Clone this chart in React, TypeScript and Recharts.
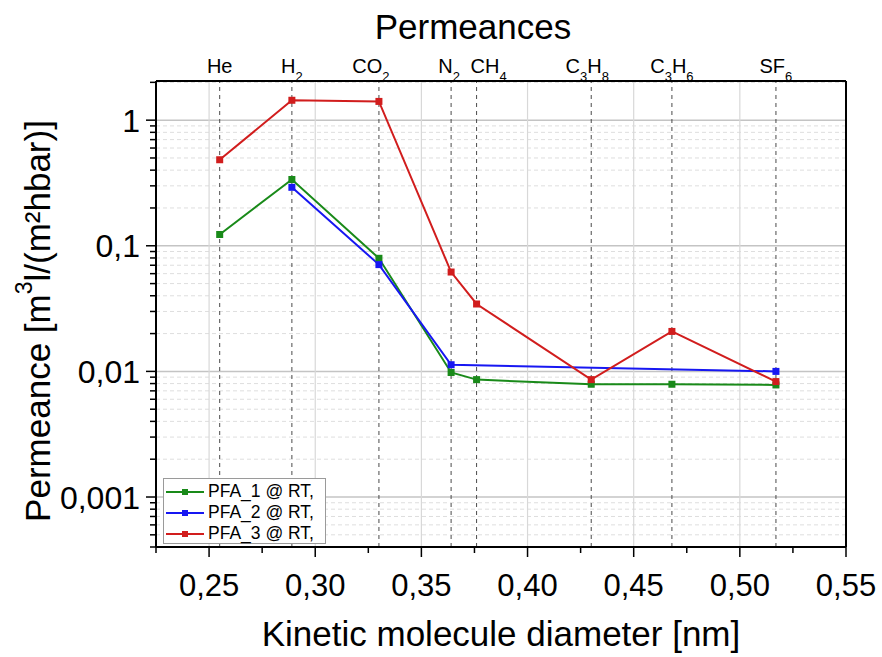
import React from 'react';
import { LineChart, Line, XAxis, YAxis, ReferenceLine, Label } from 'recharts';

// gases and their kinetic diameters (nm)
const gases = ['He', 'H2', 'CO2', 'N2', 'CH4', 'C3H8', 'C3H6', 'SF6'];
const diameters = [0.255, 0.289, 0.33, 0.364, 0.376, 0.43, 0.468, 0.517];

// permeances m3/(m2 h bar)
const pfa1 = [0.123, 0.337, 0.0795, 0.0098, 0.0086, 0.0079, 0.0079, 0.0078];
const pfa2 = [null, 0.292, 0.0708, 0.0113, null, null, null, 0.01];
const pfa3 = [0.484, 1.44, 1.41, 0.0618, 0.0344, 0.0086, 0.0208, 0.0083];

const seriesNames = ['PFA_1 @ RT,', 'PFA_2 @ RT,', 'PFA_3 @ RT,'];
const seriesColors = ['#198a19', '#1717f2', '#d11d1d'];

const xMajorTicks = [0.25, 0.3, 0.35, 0.4, 0.45, 0.5, 0.55];
const xMinorTicks = [0.225, 0.275, 0.325, 0.375, 0.425, 0.475, 0.525];
const yMajorTicks = [0.001, 0.01, 0.1, 1];
const yMinorSteps = [2, 3, 4, 5, 6, 7, 8, 9];

const data = diameters.map((d, i) => ({ d, pfa1: pfa1[i], pfa2: pfa2[i], pfa3: pfa3[i] }));

const yMinorTicks = [
  ...[4, 5, 6, 7, 8, 9].map((s) => s * 0.0001),
  ...yMajorTicks.flatMap((dec) => yMinorSteps.map((s) => s * dec)).filter((v) => v < 2.05),
];

const FONT = '"Liberation Sans", Arial, sans-serif';
const fmt = (v: number) => v.toString().replace('.', ',');
const isMajor = (list: number[], v: number) => list.some((t) => Math.abs(t - v) < 1e-9);

// small horizontal nudges so the crowded gas labels don't collide
const labelNudge: Record<string, number> = { CO2: -8, N2: -2, CH4: 12, C3H8: -4 };

// splits "C3H8" into text with subscript digits
const gasText = (g: string) =>
  g.split(/(\d+)/).filter(Boolean).map((part, i) =>
    /\d/.test(part) ? (
      <tspan key={i} baselineShift="sub" fontSize={13}>{part}</tspan>
    ) : (
      <tspan key={i}>{part}</tspan>
    )
  );

const BottomTick = (props: any) => {
  const { x, y, payload } = props;
  const major = isMajor(xMajorTicks, payload.value);
  return (
    <g>
      <line x1={x} x2={x} y1={y} y2={y + (major ? 10 : 6)} stroke="#000" strokeWidth={1.5} />
      {major && (
        <text x={x} y={y + 49} textAnchor="middle" fontSize={31} fontFamily={FONT} fill="#000">
          {payload.value.toFixed(2).replace('.', ',')}
        </text>
      )}
    </g>
  );
};

const TopTick = (props: any) => {
  const { x, y, index } = props;
  const g = gases[index];
  return (
    <text x={x + (labelNudge[g] ?? 0)} y={y - 8} textAnchor="middle" fontSize={20} fontFamily={FONT} fill="#000">
      {gasText(g)}
    </text>
  );
};

const LeftTick = (props: any) => {
  const { x, y, payload } = props;
  const major = isMajor(yMajorTicks, payload.value);
  return (
    <g>
      <line x1={x - (major ? 10 : 6)} x2={x} y1={y} y2={y} stroke="#000" strokeWidth={1.5} />
      {major && (
        <text x={x - 16} y={y} dy="0.36em" textAnchor="end" fontSize={32} fontFamily={FONT} fill="#000">
          {fmt(payload.value)}
        </text>
      )}
    </g>
  );
};

const squareDot = (color: string) => (p: any) => {
  if (p.cx == null || p.cy == null || p.value == null) return <g key={p.key ?? p.index} />;
  return <rect key={p.key ?? p.index} x={p.cx - 3.5} y={p.cy - 3.5} width={7} height={7} fill={color} />;
};

const LegendBox = () => (
  <div
    style={{
      position: 'absolute', left: 163, top: 478, width: 163, height: 66,
      background: '#fff', border: '1px solid #9a9a9a', boxSizing: 'border-box',
      fontFamily: FONT, fontSize: 17.5, padding: '2px 0 0 2px',
    }}
  >
    {seriesNames.map((name, i) => (
      <div key={name} style={{ display: 'flex', alignItems: 'center', height: 21 }}>
        <svg width={40} height={10}>
          <line x1={0} x2={38} y1={5} y2={5} stroke={seriesColors[i]} strokeWidth={2} />
          <rect x={16} y={2} width={6} height={6} fill={seriesColors[i]} />
        </svg>
        <span style={{ marginLeft: 2 }}>{name}</span>
      </div>
    ))}
  </div>
);

export default function App() {
  return (
    <div style={{ position: 'absolute', left: 0, top: 0, width: 882, height: 657, background: '#fff' }}>
      <LineChart width={882} height={657} data={data} margin={{ top: 51, right: 35, bottom: 50, left: 0 }}>
        <XAxis
          xAxisId="bottom" dataKey="d" type="number" domain={[0.225, 0.55]} allowDataOverflow
          ticks={[...xMajorTicks, ...xMinorTicks].sort((a, b) => a - b)} interval={0}
          tick={<BottomTick />} tickLine={false} tickSize={0} tickMargin={0} height={60}
          axisLine={{ stroke: '#000', strokeWidth: 2 }}
        >
          <Label
            content={({ viewBox }: any) => (
              <text x={viewBox.x + viewBox.width / 2} y={viewBox.y + 99} textAnchor="middle" fontSize={35} fontFamily={FONT} fill="#000">
                Kinetic molecule diameter [nm]
              </text>
            )}
          />
        </XAxis>
        <XAxis
          xAxisId="top" orientation="top" dataKey="d" type="number" domain={[0.225, 0.55]} allowDataOverflow
          ticks={diameters} interval={0} tick={<TopTick />} tickLine={false} tickSize={0} tickMargin={0} height={30}
          axisLine={{ stroke: '#000', strokeWidth: 2 }}
        >
          <Label
            content={({ viewBox }: any) => (
              <text x={viewBox.x + viewBox.width / 2 - 28} y={viewBox.y - 12} textAnchor="middle" fontSize={35} fontFamily={FONT} fill="#000">
                Permeances
              </text>
            )}
          />
        </XAxis>
        <YAxis
          yAxisId="left" scale="log" type="number" domain={[0.0004, 2.05]} allowDataOverflow
          ticks={[...yMajorTicks, ...yMinorTicks].sort((a, b) => a - b)} interval={0}
          tick={<LeftTick />} tickLine={false} tickSize={0} tickMargin={0} width={156}
          axisLine={{ stroke: '#000', strokeWidth: 2 }}
        >
          <Label
            content={() => (
              <text
                x={37} y={321} textAnchor="middle" dominantBaseline="central" fontSize={35}
                fontFamily={FONT} fill="#000" transform="rotate(-90, 37, 321)"
              >
                Permeance [m<tspan baselineShift="super" fontSize={23}>3</tspan>l/(m²hbar)]
              </text>
            )}
          />
        </YAxis>
        <YAxis
          yAxisId="right" orientation="right" scale="log" type="number" domain={[0.0004, 2.05]} allowDataOverflow
          tick={false} tickLine={false} width={1} axisLine={{ stroke: '#000', strokeWidth: 2 }}
        />

        {yMinorTicks.map((v) => (
          <ReferenceLine key={`ym-${v}`} xAxisId="bottom" yAxisId="left" y={v} stroke="#dedede" strokeDasharray="4 3" />
        ))}
        {yMajorTicks.map((v) => (
          <ReferenceLine key={`yM-${v}`} xAxisId="bottom" yAxisId="left" y={v} stroke="#c4c4c4" strokeWidth={1.5} />
        ))}
        {xMajorTicks.map((v) => (
          <ReferenceLine key={`xM-${v}`} xAxisId="bottom" yAxisId="left" x={v} stroke="#d8d8d8" strokeWidth={1.2} />
        ))}
        {diameters.map((v) => (
          <ReferenceLine key={`gas-${v}`} xAxisId="bottom" yAxisId="left" x={v} stroke="#4a4a4a" strokeDasharray="4 4" />
        ))}

        {['pfa1', 'pfa2', 'pfa3'].map((key, i) => (
          <Line
            key={key} xAxisId="bottom" yAxisId="left" dataKey={key} type="linear"
            stroke={seriesColors[i]} strokeWidth={2} connectNulls
            dot={squareDot(seriesColors[i])} activeDot={false} isAnimationActive={false}
          />
        ))}
      </LineChart>
      <LegendBox />
    </div>
  );
}
